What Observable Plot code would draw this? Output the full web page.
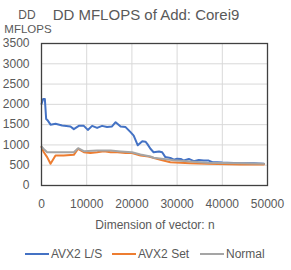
<!DOCTYPE html>
<html><head><meta charset="utf-8">
<script src="https://cdn.jsdelivr.net/npm/d3@7"></script>
<script src="https://cdn.jsdelivr.net/npm/@observablehq/plot@0.6"></script>
<style>
body{margin:0;background:#fff;}
#wrap{position:relative;width:291px;height:270px;font-family:"Liberation Sans",sans-serif;color:#595959;overflow:hidden;}
.t{position:absolute;white-space:nowrap;line-height:1;}
</style></head><body>
<div id="wrap"></div>
<script>
const title = "DD MFLOPS of Add: Corei9";
const yTitle = ["DD", "MFLOPS"];
const xTitle = "Dimension of vector: n";
const seriesNames = ["AVX2 L/S", "AVX2 Set", "Normal"];
const seriesColors = ["#4472C4", "#ED7D31", "#A5A5A5"];
const xTicks = [0, 10000, 20000, 30000, 40000, 50000];
const yTicks = [0, 500, 1000, 1500, 2000, 2500, 3000, 3500];

const avxLSn = [0,370,740,1030,1400,2000,3100,4570,6400,7150,8260,9370,10250,11200,12300,13400,14500,15600,16400,17500,18600,19700,20400,21300,22300,23000,23400,24100,24800,26000,26700,27400,28500,29300,30000,30800,31500,32600,33700,34800,35900,37000,37800,38900,40000,41100,44000,47000,49200];
const avxLSv = [2010,2135,2135,1640,1600,1500,1520,1480,1455,1390,1470,1470,1370,1470,1420,1470,1440,1455,1560,1455,1440,1315,1230,990,1090,1080,1025,905,820,840,820,700,680,635,660,655,615,655,600,630,615,615,575,575,565,560,550,550,535];
const avxSetN = [0,520,1250,2000,3100,4900,7150,8100,9370,10800,12300,13800,15300,16800,18600,20000,21900,23700,26300,28500,32900,36600,44000,49200];
const avxSetV = [945,820,700,535,740,740,755,905,820,800,820,845,820,820,800,800,740,715,635,575,550,535,520,518];
const normalN = [0,500,1250,4900,7150,8100,9370,12300,15300,17500,20000,21900,24100,24800,29300,36600,44000,49200];
const normalV = [960,900,820,820,820,920,845,860,860,840,820,765,715,685,620,560,550,535];

const data = [];
[[avxLSn,avxLSv],[avxSetN,avxSetV],[normalN,normalV]].forEach(([ns,vs],i)=>{
  ns.forEach((n,j)=>data.push({series:seriesNames[i], n, v:vs[j]}));
});

const W=291,H=270,ML=41,MR=24,MT=43,MB=85;
const fs = 12;
const plot = Plot.plot({
  width:W, height:H, marginLeft:ML, marginRight:MR, marginTop:MT, marginBottom:MB,
  style:{fontFamily:"Liberation Sans, sans-serif", fontSize:fs+"px", color:"#595959", background:"#fff"},
  x:{domain:[0,50000], ticks:xTicks, tickFormat:d=>String(d), label:null},
  y:{domain:[0,3500], ticks:yTicks, tickFormat:d=>String(d), label:null},
  color:{domain:seriesNames, range:seriesColors},
  marks:[
    Plot.gridX(xTicks,{stroke:"#d9d9d9", strokeOpacity:1, strokeWidth:1}),
    Plot.gridY(yTicks,{stroke:"#d9d9d9", strokeOpacity:1, strokeWidth:1}),
    Plot.axisX({ticks:xTicks, tickSize:0, tickPadding:14, fill:"#595959", fontSize:fs, tickFormat:d=>String(d), label:null}),
    Plot.axisY({ticks:yTicks, tickSize:0, tickPadding:12, fill:"#595959", fontSize:fs, tickFormat:d=>String(d), label:null}),
    Plot.line(data,{x:"n", y:"v", z:"series", stroke:"series", strokeWidth:2, strokeLinejoin:"round"}),
    Plot.frame({stroke:"#404040", strokeWidth:1.3})
  ]
});
const wrap = document.getElementById("wrap");
plot.style.position="absolute"; plot.style.left="0"; plot.style.top="0";
wrap.appendChild(plot);

function addText(txt, x, y, size, anchor){
  const d=document.createElement("div");
  d.className="t"; d.textContent=txt; d.style.fontSize=size+"px";
  d.style.top=y+"px";
  if(anchor==="middle"){d.style.left=x+"px"; d.style.transform="translateX(-50%)";}
  else d.style.left=x+"px";
  wrap.appendChild(d); return d;
}
addText(title, 146, 7, 15, "middle");
addText(yTitle[0], 27, 9, fs, "middle");
addText(yTitle[1], 28, 24, 11.5, "middle");
addText(xTitle, 155, 219, fs, "middle");

// legend
const legX = [25, 112, 200];
seriesNames.forEach((s,i)=>{
  const it=document.createElement("div");
  it.className="t";
  it.style.left=legX[i]+"px"; it.style.top="248px"; it.style.fontSize=fs+"px";
  it.style.display="flex"; it.style.alignItems="center";
  const sw=document.createElement("span");
  sw.style.display="inline-block"; sw.style.width="24px"; sw.style.height="2px"; sw.style.background=seriesColors[i]; sw.style.marginRight="2px";
  it.appendChild(sw); it.appendChild(document.createTextNode(s));
  wrap.appendChild(it);
});
</script>
</body></html>
